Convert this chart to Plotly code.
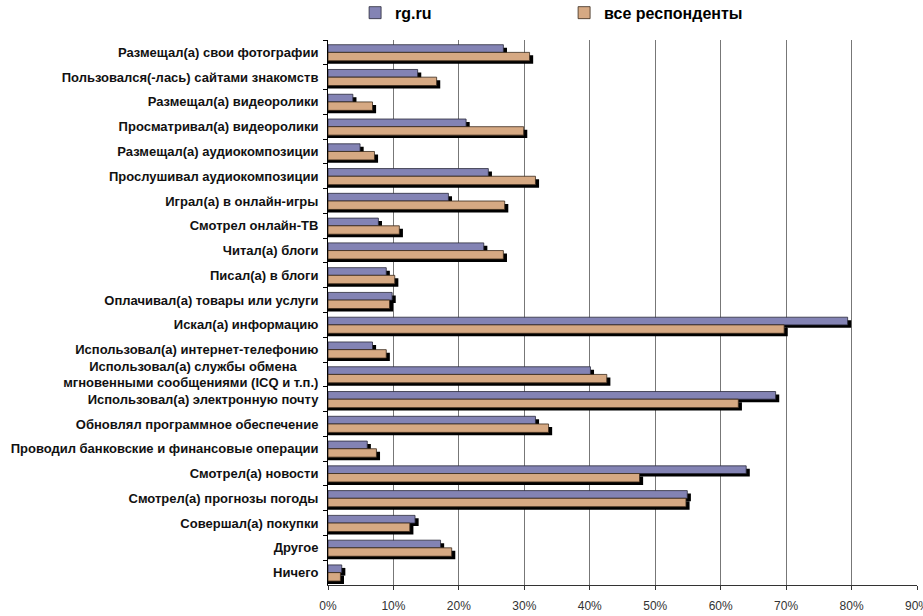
import plotly.graph_objects as go

categories = [
    "Размещал(а) свои фотографии",
    "Пользовался(-лась) сайтами знакомств",
    "Размещал(а) видеоролики",
    "Просматривал(а) видеоролики",
    "Размещал(а) аудиокомпозиции",
    "Прослушивал аудиокомпозиции",
    "Играл(а) в онлайн-игры",
    "Смотрел онлайн-ТВ",
    "Читал(а) блоги",
    "Писал(а) в блоги",
    "Оплачивал(а) товары или услуги",
    "Искал(а) информацию",
    "Использовал(а) интернет-телефонию",
    "Использовал(а) службы обмена\u00a0\u00a0\u00a0\u00a0\u00a0\u00a0<br>мгновенными сообщениями (ICQ и т.п.)",
    "Использовал(а) электронную почту",
    "Обновлял программное обеспечение",
    "Проводил банковские и финансовые операции",
    "Смотрел(а) новости",
    "Смотрел(а) прогнозы погоды",
    "Совершал(а) покупки",
    "Другое",
    "Ничего",
]

rg_values = [26.8, 13.7, 3.8, 21.1, 4.9, 24.5, 18.4, 7.7, 23.8, 8.9, 9.8,
             79.4, 6.8, 40.1, 68.4, 31.7, 6.0, 63.9, 54.9, 13.3, 17.2, 2.1]
all_values = [30.8, 16.6, 6.8, 29.9, 7.1, 31.7, 27.0, 10.9, 26.8, 10.2, 9.4,
              69.7, 8.9, 42.6, 62.7, 33.7, 7.4, 47.6, 54.7, 12.5, 18.9, 1.9]

series_names = ["rg.ru", "все респонденты"]
x_ticks = [0, 10, 20, 30, 40, 50, 60, 70, 80, 90]
x_tick_labels = ["0%", "10%", "20%", "30%", "40%", "50%", "60%", "70%", "80%", "90%"]

# style
RG_COLOR = "#8383b4"
ALL_COLOR = "#d6a983"
SHADOW_DX = 0.55      # shadow shift along value axis (% units)
SHADOW_DY = 0.12      # shadow shift along category axis (band units)
RG_OFF, RG_W = -0.31, 0.31
ALL_OFF, ALL_W = 0.0, 0.34

fig = go.Figure()

# shadows
for vals, off, w in [(rg_values, RG_OFF, RG_W), (all_values, ALL_OFF, ALL_W)]:
    fig.add_trace(go.Bar(
        y=categories, x=[v + SHADOW_DX for v in vals], orientation="h",
        offset=off + SHADOW_DY, width=w,
        marker=dict(color="#000000", line=dict(width=0)),
        showlegend=False, hoverinfo="skip",
    ))

fig.add_trace(go.Bar(
    y=categories, x=rg_values, orientation="h", name=series_names[0],
    offset=RG_OFF, width=RG_W,
    marker=dict(color=RG_COLOR, line=dict(color="#2a2a3a", width=0.8)),
))
fig.add_trace(go.Bar(
    y=categories, x=all_values, orientation="h", name=series_names[1],
    offset=ALL_OFF, width=ALL_W,
    marker=dict(color=ALL_COLOR, line=dict(color="#3a2a1a", width=0.8)),
))

fig.update_layout(
    width=923, height=616,
    template="none",
    barmode="overlay",
    paper_bgcolor="white", plot_bgcolor="white",
    margin=dict(l=328, r=6, t=40, b=31, autoexpand=False),
    font=dict(family="Liberation Sans, Arial, sans-serif", color="#000"),
    showlegend=True,
    legend=dict(
        orientation="h", x=0.046, xanchor="left", y=1.05, yanchor="middle",
        font=dict(size=16, color="#000", family="Liberation Sans, Arial, sans-serif", weight="bold"),
        entrywidth=164, entrywidthmode="pixels",
        traceorder="normal", bgcolor="rgba(0,0,0,0)",
    ),
    xaxis=dict(
        range=[0, 90], tickvals=x_ticks, ticktext=x_tick_labels,
        showgrid=True, gridcolor="#777777", gridwidth=1,
        showline=True, linecolor="#333333", linewidth=1,
        ticks="outside", ticklen=4, tickcolor="#333333",
        ticklabelstandoff=6, ticklabeloverflow="allow",
        tickfont=dict(size=12, color="#333333"),
        zeroline=False, automargin=False, fixedrange=True,
    ),
    yaxis=dict(
        autorange="reversed", type="category",
        showgrid=False, showline=True, linecolor="#000000", linewidth=1,
        ticks="outside", ticklen=4, tickcolor="#000000", tickson="boundaries",
        ticklabelstandoff=6,
        tickfont=dict(size=13, color="#111111", weight="bold"),
        automargin=False, zeroline=False,
    ),
)

fig.write_html(
    "out.html",
    config={"displayModeBar": False},
    post_script="document.body.style.margin='0';document.body.style.overflow='hidden';",
)
